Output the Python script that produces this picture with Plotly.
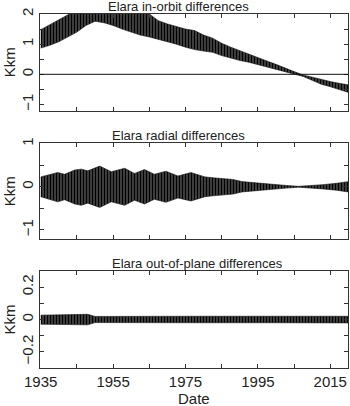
import plotly.graph_objects as go

# ---------------- data (envelopes, Kkm) ----------------
inorbit_years = [1935, 1937.5, 1940, 1942.5, 1945, 1947.5, 1950, 1952.5, 1955, 1957.5,
                 1960, 1962.5, 1965, 1967.5, 1970, 1972.5, 1975, 1977.5, 1980, 1982.5,
                 1985, 1987.5, 1990, 1992.5, 1995, 1997.5, 2000, 2002.5, 2005, 2007.5,
                 2010, 2012.5, 2015, 2017.5, 2020]
inorbit_upper = [1.48, 1.64, 1.82, 1.96, 2.15, 2.30, 2.40, 2.35, 2.25, 2.18,
                 2.10, 2.05, 2.00, 1.78, 1.67, 1.58, 1.50, 1.45, 1.30, 1.20,
                 1.03, 0.90, 0.78, 0.66, 0.55, 0.44, 0.33, 0.20, 0.09, -0.02,
                 -0.10, -0.18, -0.24, -0.30, -0.35]
inorbit_lower = [0.87, 0.96, 1.08, 1.23, 1.40, 1.62, 1.76, 1.71, 1.62, 1.50,
                 1.40, 1.30, 1.24, 1.16, 1.10, 1.00, 0.90, 0.82, 0.77, 0.73,
                 0.62, 0.53, 0.46, 0.40, 0.32, 0.25, 0.18, 0.10, 0.02, -0.07,
                 -0.20, -0.33, -0.41, -0.50, -0.60]

radial_years = [1935, 1937.9, 1939.7, 1941.6, 1944.4, 1946.2, 1948, 1951.3, 1954.5, 1958.2,
                1960.9, 1963.7, 1966.4, 1969.6, 1972.9, 1976.5, 1978, 1980.4, 1982.6, 1986,
                1988.1, 1990.6, 1995.2, 1999.8, 2002.9, 2006.3, 2009.3, 2013, 2016.7, 2020]
radial_upper = [0.23, 0.29, 0.33, 0.29, 0.39, 0.41, 0.37, 0.48, 0.35, 0.43,
                0.31, 0.40, 0.29, 0.36, 0.25, 0.33, 0.29, 0.23, 0.21, 0.18,
                0.17, 0.12, 0.08, 0.05, 0.03, 0.01, 0.025, 0.05, 0.08, 0.12]
radial_lower = [-0.23, -0.31, -0.35, -0.30, -0.40, -0.43, -0.38, -0.48, -0.35, -0.43,
                -0.31, -0.40, -0.29, -0.36, -0.26, -0.33, -0.29, -0.23, -0.21, -0.18,
                -0.17, -0.12, -0.08, -0.05, -0.03, -0.01, -0.025, -0.05, -0.08, -0.12]

oop_years = [1935, 1940, 1945, 1948, 1950, 1960, 1980, 2000, 2020]
oop_upper = [0.027, 0.028, 0.030, 0.032, 0.019, 0.018, 0.020, 0.020, 0.020]
oop_lower = [-0.029, -0.030, -0.031, -0.033, -0.019, -0.018, -0.020, -0.020, -0.021]

titles = ["Elara in-orbit differences", "Elara radial differences",
          "Elara out-of-plane differences"]
x_tick_years = [1935, 1945, 1955, 1965, 1975, 1985, 1995, 2005, 2015]
x_tick_labels = ["1935", "", "1955", "", "1975", "", "1995", "", "2015"]
y1_ticks = [-1, -0.5, 0, 0.5, 1, 1.5, 2]
y1_labels = ["\u22121", "", "0", "", "1", "", "2"]
y2_ticks = [-1, -0.5, 0, 0.5, 1]
y2_labels = ["\u22121", "", "0", "", "1"]
y3_ticks = [-0.3, -0.2, -0.1, 0, 0.1, 0.2, 0.3]
y3_labels = ["", "\u22120.2", "", "0", "", "0.2", ""]

# ---------------- figure ----------------
W, H = 350, 406
ML, MR, MT, MB = 40, 2, 14, 38
PH = H - MT - MB
PW = W - ML - MR

def dom(top_px, bot_px):
    return [(H - MB - bot_px) / PH, (H - MB - top_px) / PH]

domains = [dom(14, 110.5), dom(143.3, 239.3), dom(271, 368)]
yranges = [[-1.2, 2.0], [-1.22, 1.01], [-0.3, 0.3]]
title_left_px = [106, 110, 110]

FONT = "Liberation Sans, Arial, sans-serif"
INK = "#222222"

fig = go.Figure()
series = [(inorbit_years, inorbit_upper, inorbit_lower),
          (radial_years, radial_upper, radial_lower),
          (oop_years, oop_upper, oop_lower)]
for i, (yrs, up, lo) in enumerate(series):
    ax = "" if i == 0 else str(i + 1)
    fig.add_trace(go.Scatter(x=yrs, y=lo, mode="lines", line=dict(color="#111", width=0.6),
                             xaxis="x" + ax, yaxis="y" + ax, showlegend=False,
                             hoverinfo="skip"))
    fig.add_trace(go.Scatter(x=yrs, y=up, mode="lines", line=dict(color="#111", width=0.6),
                             fill="tonexty", fillcolor="#5a5a5a",
                             fillpattern=dict(shape="|", size=3, solidity=0.68,
                                              fgcolor="#000000", bgcolor="#7e7e7e"),
                             xaxis="x" + ax, yaxis="y" + ax, showlegend=False,
                             hoverinfo="skip"))

axis_common = dict(showline=True, linecolor="#333", linewidth=1, mirror="ticks",
                   ticks="inside", ticklen=4, tickcolor="#333", showgrid=False,
                   zeroline=False, automargin=False,
                   tickfont=dict(family=FONT, size=15, color=INK))

ytv = [(y1_ticks, y1_labels), (y2_ticks, y2_labels), (y3_ticks, y3_labels)]
layout = dict(width=W, height=H, margin=dict(l=ML, r=MR, t=MT, b=MB, autoexpand=False),
              paper_bgcolor="white", plot_bgcolor="white", showlegend=False,
              template="none", font=dict(family=FONT, color=INK))
for i in range(3):
    sfx = "" if i == 0 else str(i + 1)
    layout["xaxis" + sfx] = dict(axis_common, domain=[0, 1], range=[1934.8, 2019.9],
                                 anchor="y" + sfx, tickmode="array",
                                 tickvals=x_tick_years, ticktext=x_tick_labels,
                                 showticklabels=(i == 2), ticklabelstandoff=0)
    layout["yaxis" + sfx] = dict(axis_common, domain=domains[i], range=yranges[i],
                                 anchor="x" + sfx, tickmode="array",
                                 tickvals=ytv[i][0], ticktext=ytv[i][1],
                                 tickangle=-90, ticklabelstandoff=0)
fig.update_layout(**layout)

# zero line in top panel
fig.add_shape(type="line", xref="x domain", yref="y", x0=0, x1=1, y0=0, y1=0,
              line=dict(color="#111", width=1))

annotations = []
for i in range(3):
    annotations.append(dict(text=titles[i], xref="paper", yref="paper",
                            x=(title_left_px[i] - ML) / PW, y=domains[i][1],
                            xanchor="left", yanchor="bottom", yshift=-2, showarrow=False,
                            font=dict(family=FONT, size=13, color=INK)))
    annotations.append(dict(text="Kkm", xref="paper", yref="paper", x=0,
                            y=(domains[i][0] + domains[i][1]) / 2, xshift=-31,
                            xanchor="center", yanchor="middle", textangle=-90,
                            showarrow=False, font=dict(family=FONT, size=15, color=INK)))
annotations.append(dict(text="Date", xref="paper", yref="paper", x=0.5, y=0,
                        yshift=-30, xanchor="center", yanchor="middle", showarrow=False,
                        font=dict(family=FONT, size=15, color=INK)))
fig.update_layout(annotations=annotations)

fig.write_html("out.html", config={"displayModeBar": False},
               post_script="document.body.style.margin='0';")
